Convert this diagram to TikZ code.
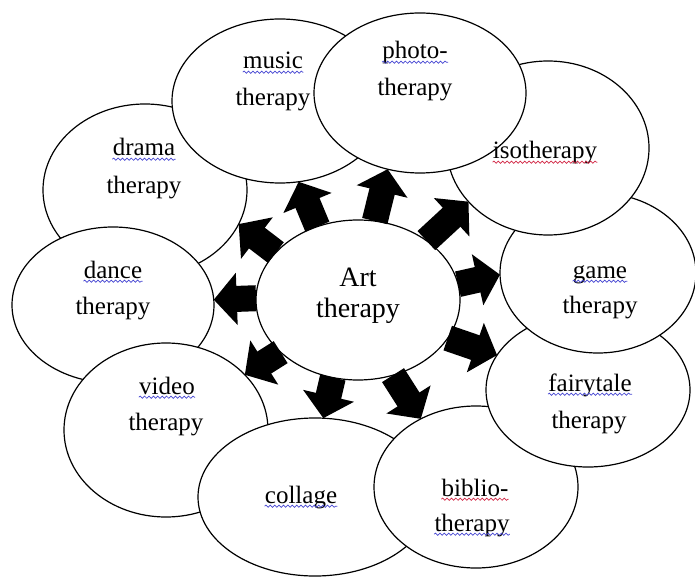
\documentclass[tikz,border=0pt]{standalone}
\usepackage{fontspec}
\setmainfont{Liberation Serif}
\usepackage{tikz}
\usetikzlibrary{shapes.geometric,arrows.meta,positioning,decorations.pathmorphing}
\definecolor{spellblue}{RGB}{70,70,210}
\definecolor{spellred}{RGB}{210,40,70}
\tikzset
{
    ring/.style 2 args = {ellipse, draw=black, fill=white, line width=0.6pt, inner sep=0pt, outer sep=0pt, minimum width=#1, minimum height=#2},
    word/.style        = {inner sep=0pt, font=\fontsize{12.5}{14}\selectfont, text height=8.75pt, text depth=2.75pt},
    bigword/.style     = {inner sep=0pt, font=\fontsize{14}{16}\selectfont, text height=9.8pt, text depth=3.1pt},
    blockarrow/.style  = {draw=black, line width=13pt, -{Triangle[width=25.5pt, length=11.5pt]}},
    squiggle/.style    = {draw=#1, line width=0.35pt, decorate, decoration={snake, amplitude=0.55pt, segment length=2.2pt}}
}

\begin{document}
\begin{tikzpicture}[x=0.5pt, y=-0.5pt]

   \useasboundingbox (0, 0) rectangle (695, 577);

   % outer ring, back to front
   \node (drama)   [ring={102pt}{86pt}]  at (145, 190) {};
   \node (music)   [ring={108pt}{82pt}]  at (280, 101) {};
   \node (dance)   [ring={101pt}{78pt}]  at (113, 305) {};
   \node (video)   [ring={102pt}{87pt}]  at (166, 430) {};
   \node (collage) [ring={117pt}{79pt}]  at (315, 497) {};
   \node (biblio)  [ring={102pt}{81pt}]  at (476, 487) {};
   \node (fairy)   [ring={102pt}{77pt}]  at (588, 390) {};
   \node (game)    [ring={98pt}{80pt}]   at (598, 273) {};
   \node (iso)     [ring={101pt}{87pt}]  at (548, 148) {};
   \node (photo)   [ring={106pt}{80pt}]  at (420, 93)  {};

   \node (art)     [ring={102pt}{80pt}]  at (358, 300) {};

   \path
      (art.150) edge[blockarrow] (drama.340)
      (art.119) edge[blockarrow] (music.283)
      (art.78)  edge[blockarrow] (photo.247)
      (art.41)  edge[blockarrow] (iso.214)
      (art.9)   edge[blockarrow] (game.181)
      (art.337) edge[blockarrow] (fairy.159)
      (art.295) edge[blockarrow] (biblio.129)
      (art.252) edge[blockarrow] (collage.84)
      (art.214) edge[blockarrow] (video.35)
      (art.179) edge[blockarrow] (dance.3);

   \node (artA)     [bigword] at (358, 280) {Art};
   \node (artB)     [bigword] at (358, 311) {therapy};

   \node (musicA)   [word] at (273, 63)  {music};
   \node (musicB)   [word] at (273, 100) {therapy};
   \node (photoA)   [word] at (415, 53)  {photo-};
   \node (photoB)   [word] at (415, 90)  {therapy};
   \node (dramaA)   [word] at (144, 150) {drama};
   \node (dramaB)   [word] at (144, 187) {therapy};
   \node (danceA)   [word] at (113, 272) {dance};
   \node (danceB)   [word] at (113, 308) {therapy};
   \node (videoA)   [word] at (167, 388) {video};
   \node (videoB)   [word] at (166, 424) {therapy};
   \node (collageA) [word] at (301, 497) {collage};
   \node (biblioA)  [word] at (475, 490) {biblio-};
   \node (biblioB)  [word] at (472, 525) {therapy};
   \node (fairyA)   [word] at (590, 385) {fairytale};
   \node (fairyB)   [word] at (589, 422) {therapy};
   \node (gameA)    [word] at (600, 272) {game};
   \node (gameB)    [word] at (600, 307) {therapy};
   \node (isoA)     [word] at (545, 153) {isotherapy};

   % spell-check marks under the words
   \foreach \w in {musicA, photoA, dramaA, danceA, videoA, collageA, biblioB, fairyA, gameA}
      \path[squiggle=spellblue] ([yshift=-1.6pt]\w.base west) -- ([yshift=-1.6pt]\w.base east);
   \foreach \w in {biblioA, isoA}
      \path[squiggle=spellred] ([yshift=-1.6pt]\w.base west) -- ([yshift=-1.6pt]\w.base east);

\end{tikzpicture}
\end{document}
